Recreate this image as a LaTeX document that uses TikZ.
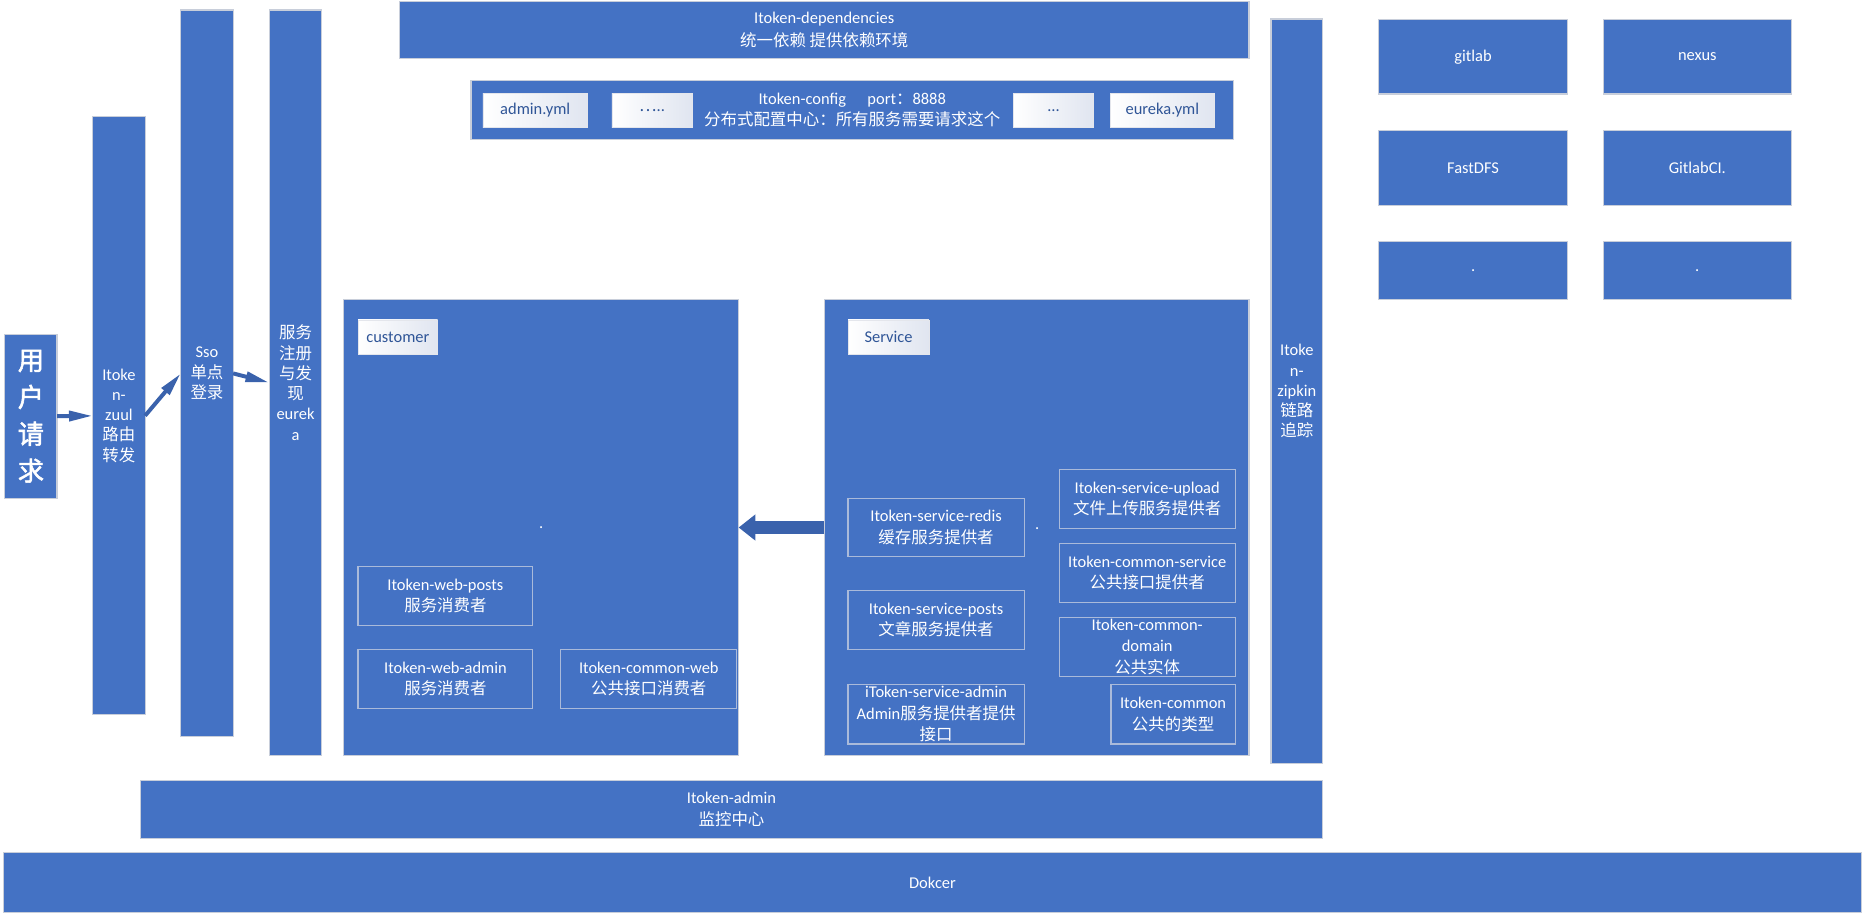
\documentclass[tikz,border=0pt]{standalone}
\usepackage{fontspec}
\setmainfont{Carlito}
\newfontfamily\cjk{Noto Sans CJK SC}
\newfontfamily\cjkb{Noto Sans CJK SC}[FakeBold=2]
\usetikzlibrary{arrows.meta,fit}
\definecolor{boxblue}{RGB}{68,114,196}
\definecolor{edgegray}{RGB}{200,206,218}
\definecolor{inneredge}{RGB}{170,186,218}
\definecolor{tagtext}{RGB}{47,85,151}
\definecolor{tagshade}{RGB}{224,229,240}
\definecolor{arrowblue}{RGB}{58,98,172}
\newcommand\txt{\fontsize{8.3}{10.8}\selectfont}
\newcommand\coltxt{\fontsize{8.3}{10.2}\selectfont}
\newcommand\mybox[7]{%
  \coordinate (#2-a) at (#3,#4);
  \coordinate (#2-b) at (#5,#6);
  \node[#1, fit=(#2-a)(#2-b)] (#2) {};
  \node[#1 text] (#2-t) at (#2.center) {#7};
}
\tikzset{
  bluebox/.style={draw=edgegray, line width=0.6pt, fill=boxblue, inner sep=0pt, outer sep=0pt},
  bluebox text/.style={text=white, font=\txt, align=center, inner sep=0pt},
  colbox/.style={bluebox},
  colbox text/.style={text=white, font=\coltxt, align=center, inner sep=0pt},
  depbox/.style={bluebox},
  depbox text/.style={text=white, font=\fontsize{8.3}{11.8}\selectfont, align=center, inner sep=0pt},
  userbox/.style={bluebox},
  userbox text/.style={text=white, font=\cjkb\fontsize{13.2}{18.6}\selectfont, align=center, inner sep=0pt},
  innerbox/.style={draw=inneredge, line width=0.6pt, inner sep=0pt, outer sep=0pt},
  innerbox text/.style={text=white, font=\txt, align=center, inner sep=0pt},
  tagbox/.style={left color=white, right color=tagshade, draw=edgegray!50, line width=0.3pt, inner sep=0pt, outer sep=0pt},
  tagbox text/.style={text=tagtext, font=\txt, align=center, inner sep=0pt},
  dotlabel/.style={text=white, font=\txt, inner sep=0pt},
  thinarrow/.style={draw=arrowblue, line width=2pt, -{Triangle[length=12pt,width=5pt]}},
  bigarrow/.style={draw=arrowblue, line width=6.6pt, -{Triangle[length=8.4pt,width=12.6pt]}},
}
\begin{document}
\begin{tikzpicture}[x=0.6pt,y=-0.6pt]
\useasboundingbox (0,0) rectangle (1568,768);
% left columns
\mybox{userbox}{user}{4}{281}{48}{419}{用\\户\\请\\求}
\mybox{colbox}{zuul}{78}{98}{122}{601}{Itoke\\n-\\zuul\\{\cjk 路由}\\{\cjk 转发}}
\mybox{colbox}{sso}{152}{8.4}{196}{619.5}{Sso\\{\cjk 单点}\\{\cjk 登录}}
\mybox{colbox}{eureka}{226.4}{8.4}{270.5}{635}{{\cjk 服务}\\{\cjk 注册}\\{\cjk 与发}\\{\cjk 现}\\eurek\\a}
% top bars
\mybox{depbox}{deps}{336}{1}{1050}{49.5}{Itoken-dependencies\\{\cjk 统一依赖 提供依赖环境}}
\mybox{bluebox}{config}{396}{67.5}{1037}{117}{Itoken-config\hspace{1.3em}port{\cjk ：}8888\\{\cjk 分布式配置中心：所有服务需要请求这个}}
\mybox{tagbox}{yml1}{406}{78.5}{494}{107}{admin.yml}
\mybox{tagbox}{yml2}{514.5}{78.5}{582}{107}{{\cjk …}..}
\mybox{tagbox}{yml3}{852}{78.5}{919.5}{107}{…}
\mybox{tagbox}{yml4}{933.5}{78.5}{1021}{107}{eureka.yml}
% customer container
\mybox{bluebox}{customer}{288.5}{252}{621}{635}{}
\mybox{tagbox}{custtag}{301}{269}{368}{297.5}{customer}
\node[dotlabel] (custdot) at (455,444) {.};
\mybox{innerbox}{webposts}{301}{476.5}{448}{526}{Itoken-web-posts\\{\cjk 服务消费者}}
\mybox{innerbox}{webadmin}{301}{546}{448}{596}{Itoken-web-admin\\{\cjk 服务消费者}}
\mybox{innerbox}{commonweb}{471.5}{546}{619.5}{596}{Itoken-common-web\\{\cjk 公共接口消费者}}
% service container
\mybox{bluebox}{service}{693}{252}{1050}{635}{}
\mybox{tagbox}{servtag}{713}{269}{781}{297.5}{Service}
\node[dotlabel] (servdot) at (872,444.5) {.};
\mybox{innerbox}{redis}{713}{419}{861}{468}{Itoken-service-redis\\{\cjk 缓存服务提供者}}
\mybox{innerbox}{sposts}{713}{496.5}{861}{546}{Itoken-service-posts\\{\cjk 文章服务提供者}}
\mybox{innerbox}{sadmin}{713}{575.5}{861}{625.5}{iToken-service-admin\\Admin{\cjk 服务提供者提供}\\{\cjk 接口}}
\mybox{innerbox}{upload}{890.5}{394.5}{1038.5}{444.5}{Itoken-service-upload\\{\cjk 文件上传服务提供者}}
\mybox{innerbox}{cservice}{890.5}{457}{1038.5}{506.5}{Itoken-common-service\\{\cjk 公共接口提供者}}
\mybox{innerbox}{cdomain}{890.5}{519}{1038.5}{568.5}{Itoken-common-\\domain\\{\cjk 公共实体}}
\mybox{innerbox}{common}{934}{575.5}{1038.5}{625.5}{Itoken-common\\{\cjk 公共的类型}}
% zipkin
\mybox{colbox}{zipkin}{1068.5}{16}{1112}{642}{Itoke\\n-\\zipkin\\{\cjk 链路}\\{\cjk 追踪}}
% right grid
\mybox{bluebox}{gitlab}{1159}{16.5}{1318}{79}{gitlab}
\mybox{bluebox}{nexus}{1348}{16.5}{1506}{79}{nexus}
\mybox{bluebox}{fastdfs}{1159}{110}{1318}{173}{FastDFS}
\mybox{bluebox}{gitlabci}{1348}{110}{1506}{173}{GitlabCI.}
\mybox{bluebox}{dotA}{1159}{203}{1318}{252}{.}
\mybox{bluebox}{dotB}{1348}{203}{1506}{252}{.}
% bottom bars
\mybox{bluebox}{adminbar}{118}{656}{1112}{705}{Itoken-admin\\{\cjk 监控中心}}
\mybox{bluebox}{docker}{3}{717}{1565}{767}{Dokcer}
% connectors
\draw[thinarrow] (user) -- (zuul);
\draw[thinarrow] (zuul.east) -- (sso.west);
\draw[thinarrow] (sso.east) -- (eureka.west);
\draw[bigarrow] (service) -- (customer);
\end{tikzpicture}
\end{document}
